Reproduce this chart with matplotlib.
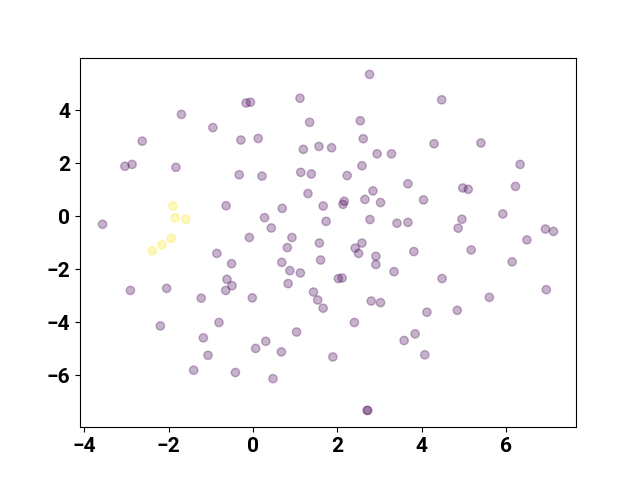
#!/usr/bin/env python3
"""Scatter of two classes (viridis, translucent markers)."""
import numpy as np
import matplotlib
matplotlib.use('Agg')
import matplotlib.pyplot as plt

plt.rcParams['font.family'] = ['Roboto', 'DejaVu Sans']

# class 0 points (purple)
x0 = [-3.57, -3.04, -2.87, -2.63, -1.70, -1.83, -0.955, -0.166, -0.064, -0.29,
      0.12, 1.11, 1.34, 1.19, 1.56, 1.86, -0.33, 0.21, 1.13, 1.38,
      1.30, 1.66, 1.73, -0.64, 0.69, 0.27, 0.43, -0.09, 0.92, 1.57,
      -2.91, -2.05, -2.20, -1.23, -0.86, -0.51, -0.62, -0.65, -0.50, 0.81,
      1.60, 0.68, 0.87, 1.12, 0.83, -0.02, 1.43, 1.53, 1.66, -0.81,
      -1.18, -1.07, -1.41, -0.42, 0.30, 0.06, 0.67, 1.03, 0.47, 2.42,
      2.58, 2.50, 2.91, 2.91, 3.81, 3.34, 2.02, 2.11, 2.80, 3.02,
      4.48, 4.12, 4.84, 5.60, 5.17, 6.14, 6.49, 6.95, 2.40, 3.84,
      3.58, 4.07, 1.89, 2.72, 2.70, 2.76, 4.47, 2.54, 2.61, 4.29,
      5.40, 2.94, 3.28, 2.58, 2.23, 6.33, 6.22, 3.67, 2.84, 2.65,
      3.02, 2.16, 2.13, 4.04, 4.97, 5.10, 2.77, 3.41, 3.67, 4.95,
      4.86, 5.92, 6.93, 7.12]
y0 = [-0.30, 1.89, 1.96, 2.84, 3.85, 1.85, 3.35, 4.28, 4.31, 2.88,
      2.94, 4.46, 3.55, 2.53, 2.64, 2.59, 1.57, 1.52, 1.66, 1.60,
      0.86, 0.39, -0.19, 0.40, 0.30, -0.05, -0.44, -0.80, -0.80, -1.01,
      -2.80, -2.72, -4.14, -3.09, -1.40, -1.79, -2.38, -2.80, -2.62, -1.18,
      -1.65, -1.74, -2.05, -2.14, -2.54, -3.08, -2.86, -3.16, -3.47, -4.01,
      -4.59, -5.25, -5.81, -5.90, -4.72, -4.99, -5.12, -4.37, -6.13, -1.20,
      -1.01, -1.40, -1.51, -1.82, -1.33, -2.09, -2.35, -2.33, -3.20, -3.26,
      -2.35, -3.62, -3.55, -3.06, -1.27, -1.72, -0.89, -2.77, -4.01, -4.44,
      -4.69, -5.23, -5.31, -7.33, -7.33, 5.36, 4.40, 3.61, 2.93, 2.74,
      2.77, 2.36, 2.36, 1.91, 1.54, 1.96, 1.13, 1.23, 0.96, 0.64,
      0.52, 0.57, 0.45, 0.62, 1.07, 1.02, -0.12, -0.26, -0.23, -0.11,
      -0.45, 0.09, -0.48, -0.57]

# class 1 points (yellow)
x1 = [-1.90, -1.85, -1.60, -1.94, -2.16, -2.39]
y1 = [0.39, -0.05, -0.11, -0.83, -1.08, -1.30]

x = np.array(x0 + x1)
y = np.array(y0 + y1)
labels = np.array([0] * len(x0) + [1] * len(x1))

fig, ax = plt.subplots(figsize=(6.4, 4.8), dpi=100)
ax.scatter(x, y, c=labels, cmap='viridis', alpha=0.3)
for lab in ax.get_xticklabels() + ax.get_yticklabels():
    lab.set_fontsize(15)
    lab.set_fontweight('bold')
fig.savefig('out.png', dpi=100)
